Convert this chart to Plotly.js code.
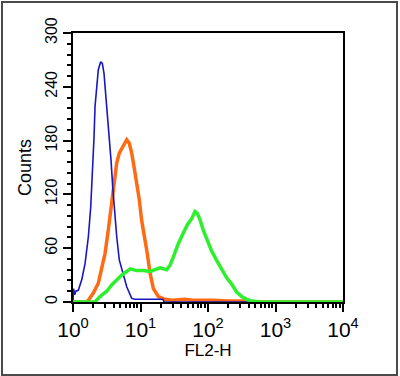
<!DOCTYPE html>
<html>
<head>
<meta charset="utf-8">
<script src="https://cdn.plot.ly/plotly-3.0.1.min.js"></script>
<style>
  html, body { margin: 0; padding: 0; background: #fff; }
  #wrap { position: relative; width: 400px; height: 376px; }
  #chart { position: absolute; left: 0; top: 0; width: 400px; height: 376px; }
  #frame { position: absolute; left: 1px; top: 1px; width: 393px; height: 371px;
           border: 2px solid #4a4a4a; pointer-events: none; }
</style>
</head>
<body>
<div id="wrap">
  <div id="chart"></div>
  <div id="frame"></div>
</div>
<script>
// FL2-H values (x) and counts (y) for each histogram
const blueX   = [1.00, 1.02, 1.06, 1.10, 1.20, 1.35, 1.51, 1.69, 1.83, 1.96, 2.05, 2.12, 2.24, 2.37, 2.57, 2.72, 2.88, 3.08, 3.27, 3.45, 3.66, 3.87, 4.09, 4.44, 4.85, 5.45, 6.25, 7.41, 8.29, 11.7, 16.4, 21.5, 22.3, 10000];
const blueY   = [0,    15,   8,    12,   13,   25,   43,   73,   106,  147,  184,  218,  244,  259,  268,  266,  255,  229,  207,  180,  158,  129,  103,  73,   47,   32,   17,   4,    3,    3,    3,    3,    0,    0];

const orangeX = [1.00, 1.60, 1.69, 2.00, 2.37, 2.66, 2.98, 3.33, 3.62, 3.87, 4.19, 4.44, 4.85, 5.45, 6.25, 6.82, 7.41, 8.01, 8.79, 9.60, 10.4, 11.7, 12.6, 13.8, 15.5, 18.4, 23.1, 30, 45, 60, 80, 120, 200, 330, 400, 10000];
const orangeY = [0,    0,    2,    10,   21,   36,   54,   80,   103,  121,  140,  155,  166,  173,  181,  177,  166,  151,  132,  114,  91,   70,   54,   33,   15,   6,    3,    2,  3,  2,  2,  2,   1,   1,   0,   0];

const greenX  = [1.00, 2.12, 2.51, 3.16, 3.74, 4.44, 5.27, 6.25, 6.99, 8.79, 11.0, 13.8, 16.4, 19.5, 24.4, 27.4, 30.6, 36.3, 43.1, 49.3, 57.4, 64.2, 69.4, 76.1, 85.2, 95.6, 113, 135, 160, 189, 224, 266, 316, 374, 449, 590, 10000];
const greenY  = [0,    0,    6,    12,   19,   25,   30,   34,   37,   35,   35,   34,   36,   38,   36,   41,   50,   65,   77,   86,   93,   101,  99,   92,   80,   70,   57,  46,  37,  27,  20,  11,  6,   3,   1,   0,   0];

const xTickVals  = [1, 10, 100, 1000, 10000];
const xTickText  = ['10<sup>0</sup>', '10<sup>1</sup>', '10<sup>2</sup>', '10<sup>3</sup>', '10<sup>4</sup>'];
const yTickVals  = [0, 60, 120, 180, 240, 300];

const xMinor = [];
for (let d = 1; d < 10000; d *= 10) { for (let k = 2; k <= 9; k++) xMinor.push(k * d); }
const yMinor = [];
for (let v = 0; v <= 300; v += 12) if (v % 60 !== 0) yMinor.push(v);

const font = 'Liberation Sans, Arial, Helvetica, sans-serif';

const traces = [
  { x: orangeX, y: orangeY, type: 'scatter', mode: 'lines', line: { color: '#ff6a14', width: 3.5 }, hoverinfo: 'skip' },
  { x: blueX,   y: blueY,   type: 'scatter', mode: 'lines', line: { color: '#1818c0', width: 1.6 }, hoverinfo: 'skip' },
  { x: greenX,  y: greenY,  type: 'scatter', mode: 'lines', line: { color: '#2cf02c', width: 3.5 }, hoverinfo: 'skip' }
];

const layout = {
  width: 400, height: 376,
  margin: { l: 73, r: 57, t: 33, b: 74, pad: 0 },
  paper_bgcolor: '#ffffff', plot_bgcolor: '#ffffff',
  showlegend: false,
  font: { family: font, color: '#000' },
  xaxis: {
    type: 'log', range: [0, 4],
    showline: true, mirror: true, linecolor: '#000', linewidth: 2,
    showgrid: false, zeroline: false,
    ticks: 'outside', ticklen: 8, tickwidth: 2, tickcolor: '#000',
    tickmode: 'array', tickvals: xTickVals, ticktext: xTickText,
    tickfont: { size: 21, family: font, color: '#000' },
    title: { text: 'FL2-H', font: { size: 17, family: font, color: '#000' }, standoff: 4 }
  },
  xaxis2: {
    type: 'log', range: [0, 4], overlaying: 'x', side: 'bottom', anchor: 'y',
    showline: false, showgrid: false, zeroline: false,
    ticks: 'outside', ticklen: 5, tickwidth: 2, tickcolor: '#000',
    tickmode: 'array', tickvals: xMinor, showticklabels: false
  },
  yaxis: {
    range: [0, 300],
    showline: true, mirror: true, linecolor: '#000', linewidth: 2,
    showgrid: false, zeroline: false,
    ticks: 'outside', ticklen: 8, tickwidth: 2, tickcolor: '#000',
    tickmode: 'array', tickvals: yTickVals, tickangle: -90,
    tickfont: { size: 16, family: font, color: '#000' },
    title: { text: 'Counts', font: { size: 18, family: font, color: '#000' }, standoff: 6 }
  },
  yaxis2: {
    range: [0, 300], overlaying: 'y', side: 'left', anchor: 'x',
    showline: false, showgrid: false, zeroline: false,
    ticks: 'outside', ticklen: 5, tickwidth: 2, tickcolor: '#000',
    tickmode: 'array', tickvals: yMinor, showticklabels: false
  }
};

// invisible trace that activates the minor-tick overlay axes
traces.push({ x: [1], y: [0], xaxis: 'x2', yaxis: 'y2', type: 'scatter', mode: 'markers',
              marker: { opacity: 0 }, hoverinfo: 'skip', showlegend: false });

Plotly.newPlot('chart', traces, layout, { staticPlot: true, displayModeBar: false });
</script>
</body>
</html>
